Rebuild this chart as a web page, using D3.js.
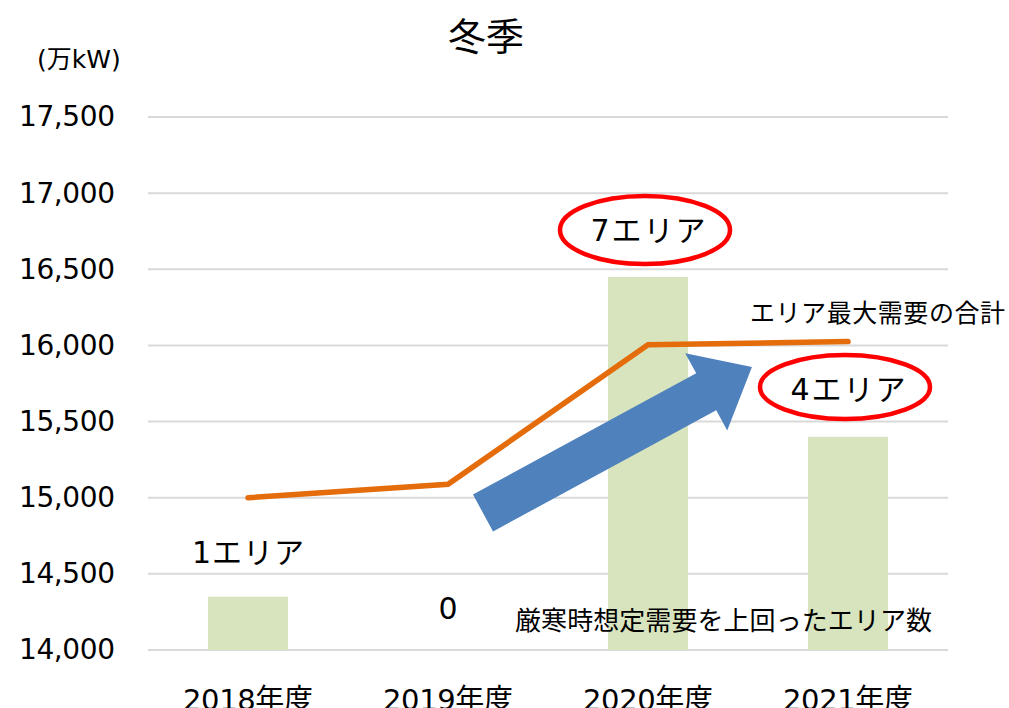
<!DOCTYPE html>
<html>
<head>
<meta charset="utf-8">
<script src="https://cdn.jsdelivr.net/npm/d3@7"></script>
<style>
	body { margin: 0; background: #fff; }
	text { font-family: "DejaVu Sans", "Noto Sans CJK JP", sans-serif; fill: #000; }
</style>
</head>
<body>
<div id="chart"></div>
<script>

////////////////////////////////////////////////////////////
/////////////////////////// Data ///////////////////////////
////////////////////////////////////////////////////////////

var years = ["2018年度", "2019年度", "2020年度", "2021年度"];
//Number of areas over the severe-winter demand estimate (bars, hidden axis)
var areaCounts = [1, 0, 7, 4];
var areaLabels = ["1エリア", "0", "7エリア", "4エリア"];
//Sum of area maximum demand (line, 万kW)
var maxDemand = [15000, 15088, 16005, 16025];
var yTicks = [14000, 14500, 15000, 15500, 16000, 16500, 17000, 17500];

////////////////////////////////////////////////////////////
////////////////////////// Setup ///////////////////////////
////////////////////////////////////////////////////////////

var width = 1009, height = 708;
var margin = { top: 117, right: 61, bottom: 58, left: 148 };
var innerW = width - margin.left - margin.right;
var innerH = height - margin.top - margin.bottom;

var svg = d3.select("#chart").append("svg")
	.attr("width", width)
	.attr("height", height);

var g = svg.append("g")
	.attr("transform", "translate(" + margin.left + "," + margin.top + ")");

var x = d3.scaleBand().domain(years).range([0, innerW]).paddingInner(0).paddingOuter(0);
var y = d3.scaleLinear().domain([14000, 17500]).range([innerH, 0]);
//secondary (hidden) axis for the area counts
var y2 = d3.scaleLinear().domain([0, 10]).range([innerH, 0]);

//Gridlines
g.selectAll(".grid")
	.data(yTicks)
	.enter().append("line")
	.attr("class", "grid")
	.attr("x1", 0).attr("x2", innerW)
	.attr("y1", function(d) { return y(d); })
	.attr("y2", function(d) { return y(d); })
	.style("stroke", "#d9d9d9")
	.style("stroke-width", 2);

//Y axis labels
var yAxis = d3.axisLeft(y).tickValues(yTicks).tickSize(0).tickPadding(33)
	.tickFormat(d3.format(","));
g.append("g").call(yAxis)
	.call(function(s) { s.select(".domain").remove(); })
	.selectAll("text")
	.style("font-size", "28px")
	.attr("textLength", 96)
	.style("font-family", "'DejaVu Sans', sans-serif");

//X axis labels
var xAxis = d3.axisBottom(x).tickSize(0).tickPadding(39);
g.append("g").attr("transform", "translate(0," + innerH + ")").call(xAxis)
	.call(function(s) { s.select(".domain").remove(); })
	.selectAll("text")
	.style("font-size", "29px")
	.attr("textLength", 130)
	.style("font-family", "'DejaVu Sans', 'Noto Sans CJK JP', sans-serif");

////////////////////////////////////////////////////////////
/////////////////////////// Bars ///////////////////////////
////////////////////////////////////////////////////////////

var barW = 80;
g.selectAll(".bar")
	.data(areaCounts)
	.enter().append("rect")
	.attr("class", "bar")
	.attr("x", function(d, i) { return x(years[i]) + x.bandwidth()/2 - barW/2; })
	.attr("y", function(d) { return y2(d); })
	.attr("width", barW)
	.attr("height", function(d) { return innerH - y2(d); })
	.style("fill", "#d7e4bd");

//Line
var line = d3.line()
	.x(function(d, i) { return x(years[i]) + x.bandwidth()/2; })
	.y(function(d) { return y(d); });

g.append("path")
	.datum(maxDemand)
	.attr("d", line)
	.style("fill", "none")
	.style("stroke", "#e46c0a")
	.style("stroke-width", 5.5)
	.style("stroke-linecap", "round");

////////////////////////////////////////////////////////////
//////////////////////// Annotations ///////////////////////
////////////////////////////////////////////////////////////

//Blue arrow (drawn in a rotated frame)
var arrowG = svg.append("g")
	.attr("transform", "translate(483,513) rotate(-28.5)");
var shaftW = 42, headW = 88, len = 306, headLen = 52;
arrowG.append("path")
	.attr("d", "M0," + (-shaftW/2) +
		"L" + (len - headLen) + "," + (-shaftW/2) +
		"L" + (len - headLen) + "," + (-headW/2) +
		"L" + len + ",0" +
		"L" + (len - headLen) + "," + (headW/2) +
		"L" + (len - headLen) + "," + (shaftW/2) +
		"L0," + (shaftW/2) + "Z")
	.style("fill", "#4f81bd");

//Area count labels
var labelPos = [
	{ dx: 0, yv: 552, w: 112 },
	{ dx: 0, yv: 608, w: 0 },
	{ dx: 0, yv: 230, w: 115 },
	{ dx: 0, yv: 389, w: 115 }
];
svg.selectAll(".area-label")
	.data(areaLabels)
	.enter().append("text")
	.attr("class", "area-label")
	.attr("x", function(d, i) { return margin.left + x(years[i]) + x.bandwidth()/2 + labelPos[i].dx; })
	.attr("y", function(d, i) { return labelPos[i].yv; })
	.attr("dy", "0.35em")
	.attr("text-anchor", "middle")
	.attr("textLength", function(d, i) { return labelPos[i].w || null; })
	.style("font-size", "30px")
	.text(function(d) { return d; });

//Red ellipses round 7 and 4 areas
svg.selectAll(".ring")
	.data([2, 3])
	.enter().append("ellipse")
	.attr("class", "ring")
	.attr("cx", function(i) { return margin.left + x(years[i]) + x.bandwidth()/2 - 3; })
	.attr("cy", function(i) { return i === 2 ? 230 : 387; })
	.attr("rx", 85)
	.attr("ry", function(i) { return i === 2 ? 34 : 32; })
	.style("fill", "none")
	.style("stroke", "#ff0000")
	.style("stroke-width", 4.5);

//Series captions
svg.append("text")
	.attr("x", 750).attr("y", 313).attr("dy", "0.35em")
	.style("font-size", "25px")
	.attr("textLength", 255)
	.text("エリア最大需要の合計");

svg.append("text")
	.attr("x", 515).attr("y", 621).attr("dy", "0.35em")
	.style("font-size", "26px")
	.attr("textLength", 417)
	.text("厳寒時想定需要を上回ったエリア数");

//Title and unit
svg.append("text")
	.attr("x", 486).attr("y", 37).attr("dy", "0.35em")
	.attr("text-anchor", "middle")
	.style("font-size", "38px")
	.text("冬季");

svg.append("text")
	.attr("x", 37).attr("y", 59).attr("dy", "0.35em")
	.style("font-size", "25px")
	.text("(万kW)");

</script>
</body>
</html>
